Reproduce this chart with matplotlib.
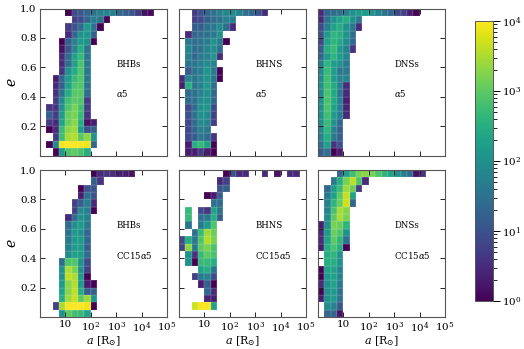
import numpy as np
import matplotlib
matplotlib.use("Agg")
from matplotlib import pyplot as plt
from matplotlib.colors import LogNorm

plt.rcParams['font.family'] = 'DejaVu Serif'
plt.rcParams['mathtext.fontset'] = 'dejavuserif'

# each row is e-bin from top (0.95-1.0) to bottom, written as (first a-bin, counts), 0 means empty
bhb_a5 = [
    (4, [1, 8, 12, 20, 30, 50, 60, 50, 20, 15, 12, 5, 1.5, 1.2]),
    (5, [6, 8, 20, 50, 30, 1]),
    (4, [5, 10, 25, 150, 30, 1]),
    (4, [3, 20, 100, 120, 15]),
    (3, [1, 15, 60, 150, 100, 1]),
    (3, [1.5, 12, 70, 300, 35]),
    (3, [3, 25, 200, 500, 40]),
    (3, [3, 25, 200, 700, 40]),
    (3, [4, 100, 300, 800, 40]),
    (2, [2, 20, 150, 500, 800, 40]),
    (2, [3, 15, 200, 700, 800, 30]),
    (2, [4, 30, 300, 900, 900, 25]),
    (2, [5, 80, 600, 1000, 800, 5]),
    (1, [4, 4, 100, 800, 1500, 600, 5]),
    (1, [15, 5, 150, 1200, 1500, 500, 4]),
    (1, [5, 3, 200, 1200, 2000, 300, 1.5, 2]),
    (1, [1, 3, 500, 2000, 2500, 150, 10, 15]),
    (2, [5, 600, 3000, 3500, 900, 2000, 100]),
    (1, [1, 80, 8000, 10000, 10000, 9000, 8000, 20]),
    (2, [1, 150, 800, 1000, 700, 300]),
]
bhns_a5 = [
    (2, [5, 10, 20, 30, 50, 70, 80, 60, 30, 20, 10, 3]),
    (2, [6, 8, 15, 25, 30, 60, 50]),
    (2, [15, 15, 30, 40, 80, 25, 3]),
    (1, [3, 20, 25, 30, 40, 100]),
    (1, [40, 25, 30, 50, 100, 40, 1]),
    (1, [60, 25, 30, 60, 100, 25]),
    (1, [50, 20, 40, 60, 120, 3]),
    (1, [35, 35, 50, 80, 60]),
    (1, [15, 35, 50, 120, 40, 1]),
    (0, [3, 70, 35, 60, 120, 35, 1]),
    (0, [2, 300, 35, 60, 150, 25]),
    (1, [25, 30, 60, 100, 20]),
    (1, [25, 30, 80, 100, 20]),
    (1, [8, 25, 100, 120, 8]),
    (1, [10, 30, 100, 80, 6]),
    (1, [8, 25, 80, 60, 5]),
    (1, [8, 20, 60, 40]),
    (1, [8, 15, 40, 25, 4]),
    (1, [2, 300, 500, 200, 1]),
    (1, [2, 2, 5, 2, 1]),
]
dns_a5 = [
    (0, [3, 20, 25, 30, 60, 100, 150, 150, 100, 60, 30, 20, 8, 6, 2, 1]),
    (0, [3, 30, 100, 200, 300, 100, 40]),
    (0, [8, 50, 200, 300, 100, 40, 3]),
    (0, [10, 150, 400, 300, 100, 25]),
    (0, [8, 200, 400, 250, 80, 20]),
    (0, [15, 300, 500, 150, 60, 4]),
    (0, [20, 150, 400, 150, 60]),
    (0, [50, 400, 150, 100, 40]),
    (0, [80, 500, 150, 40, 40]),
    (0, [80, 600, 150, 60, 60]),
    (0, [100, 600, 250, 50, 3]),
    (0, [80, 700, 250, 40, 3]),
    (0, [100, 700, 250, 50, 2]),
    (0, [100, 700, 200, 50, 2.5]),
    (0, [100, 600, 150, 50, 3]),
    (0, [100, 500, 100, 20]),
    (0, [80, 400, 60, 15]),
    (0, [60, 300, 40, 15]),
    (0, [30, 200, 4, 10]),
    (0, [15, 30, 1, 2]),
]
bhb_cc = [
    (8, [1, 3, 4, 3, 2, 2, 1.5]),
    (8, [15, 4]),
    (6, [1, 10, 10]),
    (6, [2, 30, 10]),
    (5, [6, 15, 50, 3]),
    (5, [6, 80, 50, 1]),
    (4, [3, 25, 100, 50]),
    (4, [25, 100, 150, 40]),
    (4, [30, 150, 100, 20]),
    (4, [40, 150, 150, 20]),
    (4, [50, 150, 150, 15]),
    (4, [80, 200, 150, 25]),
    (3, [25, 800, 800, 100, 8]),
    (3, [100, 3000, 1500, 100, 6]),
    (3, [100, 4000, 3000, 150, 1]),
    (3, [150, 2000, 3500, 150, 2, 1]),
    (3, [200, 2000, 4000, 300, 15, 15]),
    (3, [300, 2500, 4500, 1000, 2500, 120]),
    (2, [6, 3000, 9000, 10000, 10000, 8000, 1]),
    (3, [100, 1000, 600, 500, 200]),
]
bhns_cc = [
    (7, [1, 10, 3, 3, 0, 0, 3, 0, 1.5, 0, 3, 3]),
    (6, [3, 6]),
    (6, [10, 15]),
    (4, [1, 2, 15]),
    (5, [30, 25]),
    (1, [500, 0, 8, 4, 200, 30]),
    (1, [500, 0, 30, 40, 300, 15]),
    (1, [35, 0, 40, 150, 800]),
    (2, [30, 500, 2500, 1200]),
    (0, [8, 300, 40, 800, 3500, 1500]),
    (0, [6, 2000, 40, 1000, 1500, 700]),
    (1, [100, 4, 500, 1000, 700]),
    (1, [100, 1, 500, 500, 300]),
    (3, [200, 300, 30]),
    (2, [6, 40, 60, 8]),
    (3, [2, 15, 1]),
    (4, [20, 3]),
    (4, [2.5, 2]),
    (2, [5000, 9000, 9000, 200]),
    (0, []),
]
dns_cc = [
    (3, [20, 200, 600, 1500, 2000, 1500, 800, 400, 200, 100, 50, 25, 1.5, 4]),
    (2, [40, 300, 1500, 4000, 800, 3]),
    (1, [20, 150, 500, 2500, 1200, 5]),
    (1, [40, 200, 1000, 4500, 200]),
    (1, [60, 400, 1200, 5000, 20]),
    (1, [60, 700, 3000, 1800]),
    (1, [80, 1000, 3000, 1500]),
    (0, [2, 100, 1500, 1200, 400]),
    (0, [3, 150, 1200, 800, 100]),
    (0, [3, 200, 1000, 400, 30]),
    (0, [2, 300, 700, 300, 1]),
    (1, [300, 400, 100]),
    (1, [300, 300, 100]),
    (0, [1, 200, 200, 60]),
    (0, [1, 150, 200, 60]),
    (0, [3, 100, 200, 40]),
    (0, [1, 100, 150, 30]),
    (0, [2, 100, 150, 30]),
    (1, [80, 60, 12]),
    (1, [20, 20, 1.5]),
]

panels = [bhb_a5, bhns_a5, dns_a5, bhb_cc, bhns_cc, dns_cc]
names = ['BHBs', 'BHNS', 'DNSs', 'BHBs', 'BHNS', 'DNSs']
models = [r'$\alpha$5'] * 3 + [r'CC15$\alpha$5'] * 3

xedges = np.logspace(0, 5, 21)
yedges = np.linspace(0, 1, 21)
norm = LogNorm(vmin=1, vmax=1e4)


def to_grid(rows):
    grid = np.full((20, 20), np.nan)
    for i, (start, counts) in enumerate(rows):
        for j, c in enumerate(counts):
            if c > 0:
                grid[19 - i, start + j] = c
    return grid


fig = plt.figure(figsize=(5.24, 3.49), dpi=100)
W, H = 524.0, 349.0
lefts = [40, 179, 318]
tops = [8.5, 170]
pw, ph = 127, 147

for k in range(6):
    ax = fig.add_axes([lefts[k % 3] / W, 1 - (tops[k // 3] + ph) / H, pw / W, ph / H])
    # thin pale edges give the faint seams between cells
    im = ax.pcolormesh(xedges, yedges, to_grid(panels[k]), cmap='viridis', norm=norm,
                       edgecolors=(1, 1, 1, 0.07), linewidth=0.25)
    ax.set_xscale('log')
    ax.set_xlim(1, 1e5)
    ax.set_ylim(0, 1)
    ax.set_xticks([10, 100, 1000, 10000, 100000])
    ax.set_xticks([], minor=True)
    ax.set_yticks([0.2, 0.4, 0.6, 0.8, 1.0])
    ax.tick_params(direction='in', top=True, right=True, length=3.5, width=0.7, labelsize=7.5, pad=2.5, color='#222222')
    for s in ax.spines.values():
        s.set_linewidth(0.8)
        s.set_color('#555555')
    if k < 3:
        ax.set_xticklabels([])
    else:
        ax.set_xticklabels(['10', r'$10^{2}$', r'$10^{3}$', r'$10^{4}$', r'$10^{5}$'])
        ax.set_xlabel(r'$a$ [R$_{\odot}$]', fontsize=8, labelpad=-0.5)
    if k % 3 == 0:
        ax.set_ylabel(r'$e$', fontsize=10, labelpad=0.5)
    else:
        ax.set_yticklabels([])
    ax.text(0.60, 0.62, names[k], transform=ax.transAxes, fontsize=6.2, va='center')
    ax.text(0.60, 0.42, models[k], transform=ax.transAxes, fontsize=6.2, va='center')

cax = fig.add_axes([475 / W, 1 - 301 / H, 18 / W, 280 / H])
cb = fig.colorbar(im, cax=cax)
cb.ax.tick_params(which='major', length=5, width=0.7, labelsize=7.5, pad=1.5)
cb.ax.tick_params(which='minor', length=3, width=0.6)
cb.outline.set_linewidth(0.7)
cb.outline.set_edgecolor('#555555')

fig.savefig('out.png', dpi=100)
